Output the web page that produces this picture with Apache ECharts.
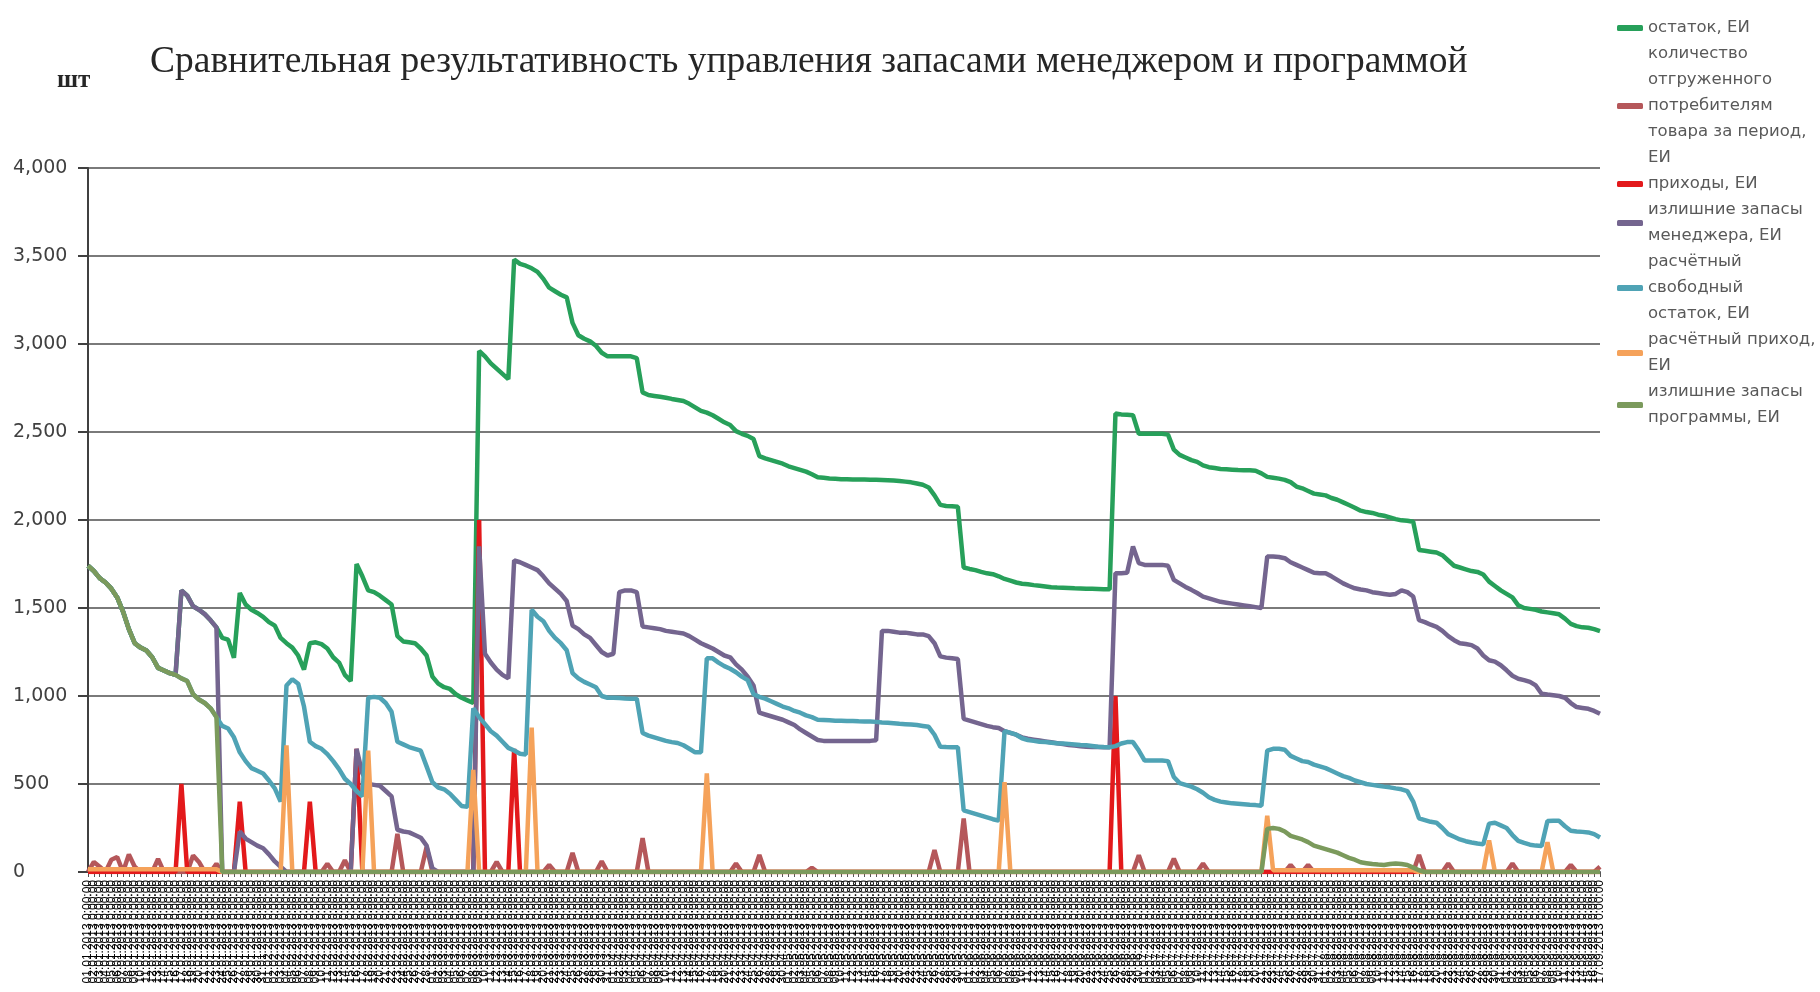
<!DOCTYPE html>
<html>
<head>
<meta charset="utf-8">
<title>Сравнительная результативность</title>
<script src="https://cdn.jsdelivr.net/npm/echarts@6/dist/echarts.min.js"></script>
<style>
  html, body { margin: 0; padding: 0; background: #fff; }
  #chart { width: 1820px; height: 992px; }
</style>
</head>
<body>
<div id="chart"></div>
<script>
// categories: daily dates (labels are illegible in the source, rendered densely)
var dates = [];
function pad(n) { return (n < 10 ? '0' : '') + n; }
for (var k = 0; k < 260; k++) {
    var d = new Date(2013, 0, 1 + k);
    dates.push(pad(d.getDate()) + '.' + pad(d.getMonth() + 1) + '.' + d.getFullYear() + ' 0:00:00');
}

var names = [
    'остаток, ЕИ',
    'количество отгруженного потребителям товара за период, ЕИ',
    'приходы, ЕИ',
    'излишние запасы менеджера, ЕИ',
    'расчётный свободный остаток, ЕИ',
    'расчётный приход, ЕИ',
    'излишние запасы программы, ЕИ'
];
var legendText = [
    'остаток, ЕИ',
    'количество\nотгруженного\nпотребителям\nтовара за период,\nЕИ',
    'приходы, ЕИ',
    'излишние запасы\nменеджера, ЕИ',
    'расчётный\nсвободный\nостаток, ЕИ',
    'расчётный приход,\nЕИ',
    'излишние запасы\nпрограммы, ЕИ'
];
var colors = ['#27a05a', '#b5575a', '#e3191b', '#74658f', '#4fa3b5', '#f5a25a', '#7b9a5c'];

var ostatok = [
    1740,1710,1670,1645,1610,1560,1480,1380,1300,1275,
    1258,1220,1160,1145,1130,1120,1600,1570,1510,1490,
    1465,1430,1390,1330,1320,1217,1585,1520,1490,1472,
    1450,1420,1400,1330,1300,1275,1230,1150,1300,1305,
    1295,1270,1220,1190,1120,1085,1750,1680,1600,1590,
    1570,1545,1520,1340,1310,1305,1300,1270,1230,1110,
    1070,1050,1040,1010,990,975,960,2960,2930,2890,
    2860,2830,2800,3480,3455,3445,3430,3410,3370,3320,
    3300,3280,3265,3120,3050,3030,3015,2990,2950,2930,
    2930,2930,2930,2930,2920,2725,2710,2705,2700,2695,
    2688,2682,2676,2660,2640,2620,2610,2595,2575,2555,
    2540,2505,2490,2478,2460,2363,2350,2340,2330,2320,
    2305,2295,2285,2275,2260,2243,2240,2236,2234,2232,
    2231,2230,2230,2230,2229,2228,2227,2226,2224,2222,
    2218,2214,2207,2200,2185,2140,2086,2080,2078,2075,
    1730,1722,1715,1705,1697,1692,1680,1665,1655,1645,
    1638,1635,1630,1626,1622,1618,1616,1615,1614,1612,
    1611,1610,1609,1608,1607,1606,2605,2600,2598,2595,
    2490,2490,2490,2490,2490,2485,2400,2370,2355,2340,
    2330,2310,2300,2295,2290,2288,2286,2284,2283,2282,
    2280,2265,2245,2240,2235,2228,2215,2190,2180,2165,
    2150,2145,2140,2125,2115,2100,2085,2070,2053,2045,
    2040,2030,2024,2015,2005,1998,1996,1990,1830,1825,
    1820,1815,1800,1770,1740,1730,1720,1710,1705,1690,
    1650,1625,1600,1580,1560,1515,1500,1495,1490,1480,
    1475,1470,1464,1440,1410,1397,1390,1388,1380,1369
];

var otgruzheno = [
    0,57,30,0,70,85,0,100,30,0,
    0,0,75,0,0,0,0,0,94,57,
    0,0,47,0,0,0,0,0,0,0,
    0,0,0,0,0,0,0,0,0,0,
    0,47,0,0,66,0,0,0,0,0,
    0,0,0,217,0,0,0,0,142,0,
    0,0,0,0,0,0,0,0,0,0,
    57,0,0,0,0,0,0,0,0,40,
    0,0,0,108,0,0,0,0,60,0,
    0,0,0,0,0,192,0,0,0,0,
    0,0,0,0,0,0,0,0,0,0,
    0,48,0,0,0,96,0,0,0,0,
    0,0,0,0,24,0,0,0,0,0,
    0,0,0,0,0,0,0,0,0,0,
    0,0,0,0,0,124,0,0,0,0,
    304,0,0,0,0,0,0,0,0,0,
    0,0,0,0,0,0,0,0,0,0,
    0,0,0,0,0,0,0,0,0,0,
    95,0,0,0,0,0,76,0,0,0,
    0,48,0,0,0,0,0,0,0,0,
    0,0,0,0,0,0,40,0,0,40,
    0,0,0,0,0,0,0,0,0,0,
    0,0,0,0,0,0,0,0,96,0,
    0,0,0,48,0,0,0,0,0,0,
    0,0,0,0,48,0,0,0,0,0,
    0,0,0,0,40,0,0,0,0,30
];

var prihody = [
    0,0,0,0,0,0,0,0,0,0,
    0,0,0,0,0,0,500,0,0,0,
    0,0,0,0,0,0,400,0,0,0,
    0,0,0,0,0,0,0,0,400,0,
    0,0,0,0,0,0,700,0,0,0,
    0,0,0,0,0,0,0,0,0,0,
    0,0,0,0,0,0,0,2000,0,0,
    0,0,0,700,0,0,0,0,0,0,
    0,0,0,0,0,0,0,0,0,0,
    0,0,0,0,0,0,0,0,0,0,
    0,0,0,0,0,0,0,0,0,0,
    0,0,0,0,0,0,0,0,0,0,
    0,0,0,0,0,0,0,0,0,0,
    0,0,0,0,0,0,0,0,0,0,
    0,0,0,0,0,0,0,0,0,0,
    0,0,0,0,0,0,0,0,0,0,
    0,0,0,0,0,0,0,0,0,0,
    0,0,0,0,0,0,1000,0,0,0,
    0,0,0,0,0,0,0,0,0,0,
    0,0,0,0,0,0,0,0,0,0,
    0,0,0,0,0,0,0,0,0,0,
    0,0,0,0,0,0,0,0,0,0,
    0,0,0,0,0,0,0,0,0,0,
    0,0,0,0,0,0,0,0,0,0,
    0,0,0,0,0,0,0,0,0,0,
    0,0,0,0,0,0,0,0,0,0
];

var izlishkiMenedzhera = [
    1740,1710,1670,1645,1610,1560,1480,1380,1300,1275,
    1258,1220,1160,1145,1130,1120,1600,1570,1510,1490,
    1465,1430,1390,0,0,0,230,190,170,150,
    135,100,60,30,0,0,0,0,0,0,
    0,0,0,0,0,0,700,560,500,495,
    490,460,430,240,230,225,210,195,150,20,
    0,0,0,0,0,0,0,1850,1240,1190,
    1150,1120,1100,1770,1760,1745,1730,1715,1680,1640,
    1610,1580,1540,1400,1380,1350,1330,1290,1250,1230,
    1240,1590,1600,1600,1590,1395,1390,1385,1380,1370,
    1365,1360,1355,1340,1320,1300,1285,1270,1250,1230,
    1220,1180,1150,1110,1060,905,895,885,875,865,
    850,835,810,790,770,750,745,745,745,745,
    745,745,745,745,745,748,1370,1370,1365,1360,
    1360,1355,1350,1350,1340,1300,1225,1218,1215,1210,
    870,860,850,840,830,823,818,800,790,780,
    765,757,752,747,742,737,732,727,722,718,
    715,712,710,710,709,709,1698,1698,1700,1850,
    1755,1745,1745,1745,1745,1740,1660,1640,1620,1603,
    1585,1565,1555,1545,1535,1530,1525,1520,1515,1510,
    1505,1500,1793,1793,1790,1783,1760,1745,1730,1715,
    1700,1698,1698,1680,1660,1640,1625,1612,1605,1600,
    1590,1585,1580,1575,1580,1600,1590,1565,1431,1420,
    1405,1393,1370,1340,1317,1300,1295,1289,1270,1230,
    1203,1195,1175,1146,1115,1098,1090,1080,1060,1013,
    1008,1004,1000,990,960,937,932,927,915,899
];

var svobodnyOstatok = [
    1740,1710,1670,1645,1610,1560,1480,1380,1300,1275,
    1258,1220,1160,1145,1130,1120,1100,1085,1010,980,
    960,930,880,830,815,765,680,630,590,575,
    560,520,475,400,1060,1095,1070,940,740,715,
    700,670,630,585,530,500,460,430,990,995,
    990,960,910,740,725,710,700,689,600,510,
    480,470,445,410,375,370,930,880,840,800,
    775,740,705,690,672,668,1490,1450,1425,1370,
    1330,1300,1260,1130,1100,1080,1065,1050,1000,990,
    990,988,986,985,985,790,775,765,755,745,
    738,733,720,700,680,680,1214,1214,1190,1170,
    1155,1135,1110,1090,1010,995,985,970,955,940,
    930,915,905,890,880,865,864,862,860,860,
    858,858,856,855,855,853,850,848,845,842,
    840,838,835,830,825,780,712,710,709,709,
    350,340,330,320,310,300,292,800,790,780,
    760,750,745,740,738,735,732,730,728,725,
    722,720,716,712,710,709,715,730,738,738,
    690,633,633,633,633,630,540,505,495,485,
    470,450,425,410,400,395,390,388,385,382,
    380,376,690,700,700,695,660,645,630,625,
    610,600,590,575,560,545,535,520,510,500,
    495,490,485,481,475,470,460,400,305,295,
    285,280,250,215,200,185,175,168,162,157,
    275,280,265,250,210,177,165,155,150,148,
    290,291,291,260,234,230,228,225,215,196
];

var raschetnyPrihod = [
    15,15,15,15,15,15,15,15,15,15,
    15,15,15,15,15,15,15,15,15,15,
    15,15,15,0,0,0,0,0,0,0,
    0,0,0,0,720,0,0,0,0,0,
    0,0,0,0,0,0,0,0,690,0,
    0,0,0,0,0,0,0,0,0,0,
    0,0,0,0,0,0,580,0,0,0,
    0,0,0,0,0,0,820,0,0,0,
    0,0,0,0,0,0,0,0,0,0,
    0,0,0,0,0,0,0,0,0,0,
    0,0,0,0,0,0,560,0,0,0,
    0,0,0,0,0,0,0,0,0,0,
    0,0,0,0,0,0,0,0,0,0,
    0,0,0,0,0,0,0,0,0,0,
    0,0,0,0,0,0,0,0,0,0,
    0,0,0,0,0,0,0,510,0,0,
    0,0,0,0,0,0,0,0,0,0,
    0,0,0,0,0,0,0,0,0,0,
    0,0,0,0,0,0,0,0,0,0,
    0,0,0,0,0,0,0,0,0,0,
    0,0,320,10,10,10,10,10,10,10,
    10,10,10,10,10,10,10,10,10,10,
    10,10,10,10,10,10,10,10,0,0,
    0,0,0,0,0,0,0,0,0,0,
    180,0,0,0,0,0,0,0,0,0,
    170,0,0,0,0,0,0,0,0,0
];

var izlishkiProgrammy = [
    1740,1710,1670,1645,1610,1560,1480,1380,1300,1275,
    1258,1220,1160,1145,1130,1120,1100,1085,1010,980,
    960,930,880,0,0,0,0,0,0,0,
    0,0,0,0,0,0,0,0,0,0,
    0,0,0,0,0,0,0,0,0,0,
    0,0,0,0,0,0,0,0,0,0,
    0,0,0,0,0,0,0,0,0,0,
    0,0,0,0,0,0,0,0,0,0,
    0,0,0,0,0,0,0,0,0,0,
    0,0,0,0,0,0,0,0,0,0,
    0,0,0,0,0,0,0,0,0,0,
    0,0,0,0,0,0,0,0,0,0,
    0,0,0,0,0,0,0,0,0,0,
    0,0,0,0,0,0,0,0,0,0,
    0,0,0,0,0,0,0,0,0,0,
    0,0,0,0,0,0,0,0,0,0,
    0,0,0,0,0,0,0,0,0,0,
    0,0,0,0,0,0,0,0,0,0,
    0,0,0,0,0,0,0,0,0,0,
    0,0,0,0,0,0,0,0,0,0,
    0,0,245,250,245,230,205,195,185,170,
    150,140,130,120,110,95,80,70,55,50,
    45,42,40,45,48,45,40,25,10,0,
    0,0,0,0,0,0,0,0,0,0,
    0,0,0,0,0,0,0,0,0,0,
    0,0,0,0,0,0,0,0,0,0
];

var seriesData = [ostatok, otgruzheno, prihody, izlishkiMenedzhera, svobodnyOstatok, raschetnyPrihod, izlishkiProgrammy];

var chart = echarts.init(document.getElementById('chart'));

var series = seriesData.map(function (arr, i) {
    return {
        name: names[i],
        type: 'line',
        data: arr,
        showSymbol: false,
        symbol: 'none',
        lineStyle: { width: 4.5, color: colors[i] },
        itemStyle: { color: colors[i] }
    };
});

var option = {
    animation: false,
    backgroundColor: '#ffffff',
    title: [
        {
            text: 'Сравнительная результативность управления запасами менеджером и программой',
            left: 145,
            top: 38,
            textStyle: { fontFamily: 'Liberation Serif', fontSize: 37.5, fontWeight: 'normal', color: '#262626' }
        },
        {
            text: 'шт',
            left: 52,
            top: 63,
            textStyle: { fontFamily: 'Liberation Serif', fontSize: 25, fontWeight: 'bold', color: '#262626' }
        }
    ],
    legend: {
        orient: 'vertical',
        left: 1612,
        top: 10,
        itemGap: 0,
        itemWidth: 26,
        itemHeight: 6,
        icon: 'roundRect',
        data: names,
        formatter: function (name) { return legendText[names.indexOf(name)]; },
        textStyle: { fontFamily: 'DejaVu Sans', fontSize: 16.5, color: '#595959', lineHeight: 26 }
    },
    grid: { left: 88, right: 220, top: 168, bottom: 120 },
    xAxis: {
        type: 'category',
        data: dates,
        boundaryGap: false,
        axisLine: { lineStyle: { color: '#555', width: 2 } },
        axisTick: { show: true, interval: 0, length: 5, lineStyle: { color: '#555' } },
        axisLabel: { interval: 0, rotate: 90, fontSize: 12, color: '#000', margin: 8, fontFamily: 'Liberation Sans' }
    },
    yAxis: {
        type: 'value',
        min: 0,
        max: 4000,
        interval: 500,
        axisLine: { show: true, lineStyle: { color: '#404040', width: 2 } },
        axisTick: { show: true, length: 10, lineStyle: { color: '#404040', width: 2 } },
        splitLine: { lineStyle: { color: '#7a7a7a', width: 2 } },
        axisLabel: {
            align: 'left',
            margin: 75,
            fontSize: 19,
            color: '#404040',
            fontFamily: 'DejaVu Sans',
            formatter: function (v) { return v.toLocaleString('en-US'); }
        }
    },
    series: series
};

chart.setOption(option);
</script>
</body>
</html>
